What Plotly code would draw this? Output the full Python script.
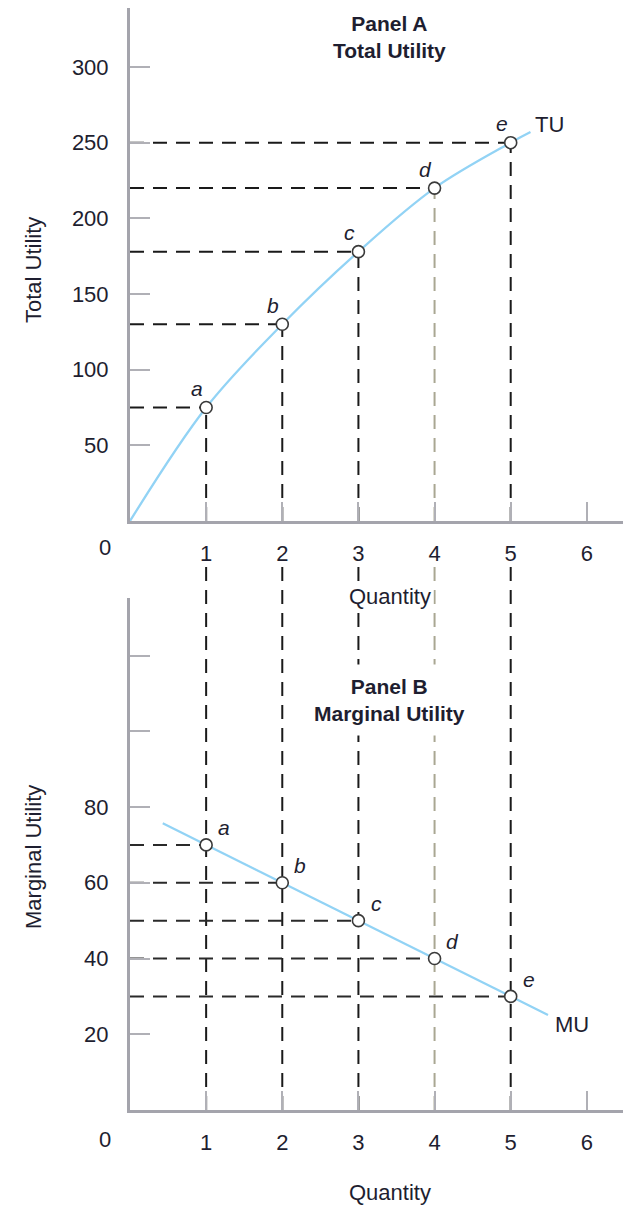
import plotly.graph_objects as go

# ---------------- data ----------------
quantity = [1, 2, 3, 4, 5]
total_utility = [75, 130, 178, 220, 250]
marginal_utility = [70, 60, 50, 40, 30]
point_labels = ["a", "b", "c", "d", "e"]
tu_curve_q = [0, 1, 2, 3, 4, 5, 5.26]
tu_curve_v = [0, 75, 130, 178, 220, 250, 257]
mu_line_q = [0.43, 5.49]
mu_line_v = [75.7, 25.1]
x_ticks = [1, 2, 3, 4, 5, 6]
tu_ticks = [50, 100, 150, 200, 250, 300]
mu_ticks = [20, 40, 60, 80, 100, 120]
mu_tick_text = ["20", "40", "60", "80", "", ""]

# ---------------- layout helpers ----------------
# the page body has an 8px margin, so the figure is made 8px smaller
OFF = 8
W, H = 631 - OFF, 1207 - OFF
ML, MR, MT, MB = 130 - OFF, 0, 8 - OFF, 97
PW, PH = W - ML - MR, H - MT - MB


def py(p):  # page pixel y -> paper
    return (1207 - MB - p) / PH


def px(p):  # page pixel x -> paper
    return (p - 130) / PW


FONT = "Liberation Sans, Arial, sans-serif"
TXT = "#1e1e30"
AX = "#a4a4ac"
TICKC = "#b0b0b6"
CURVE = "#92d3f5"
DASH = "14px,9px"

dom_a = [py(521), 1.0]
dom_b = [0.0, py(598)]

fig = go.Figure()

# curves
fig.add_trace(go.Scatter(x=tu_curve_q, y=tu_curve_v, mode="lines",
                         line=dict(color=CURVE, width=2.3, shape="spline", smoothing=1.0),
                         xaxis="x", yaxis="y", hoverinfo="skip", showlegend=False))
fig.add_trace(go.Scatter(x=mu_line_q, y=mu_line_v, mode="lines",
                         line=dict(color=CURVE, width=2.3),
                         xaxis="x2", yaxis="y2", hoverinfo="skip", showlegend=False))
# points
mk = dict(size=12, color="white", line=dict(color="#3a3a3a", width=1.6))
fig.add_trace(go.Scatter(x=quantity, y=total_utility, mode="markers", marker=mk,
                         cliponaxis=False, xaxis="x", yaxis="y", showlegend=False))
fig.add_trace(go.Scatter(x=quantity, y=marginal_utility, mode="markers", marker=mk,
                         cliponaxis=False, xaxis="x2", yaxis="y2", showlegend=False))

shapes = []
for q, tu, mu in zip(quantity, total_utility, marginal_utility):
    vcol = "#a9a792" if q == 4 else "#1a1a1a"
    # panel A vertical from point to axis
    shapes.append(dict(type="line", xref="x", yref="y", x0=q, x1=q, y0=0, y1=tu,
                       line=dict(color=vcol, width=2, dash=DASH), layer="below"))
    # continuation below the tick labels, through panel B
    shapes.append(dict(type="line", xref="x", yref="paper", x0=q, x1=q, y0=0, y1=py(561),
                       line=dict(color=vcol, width=2, dash=DASH), layer="below"))
    # panel A horizontal
    shapes.append(dict(type="line", xref="x", yref="y", x0=0, x1=q, y0=tu, y1=tu,
                       line=dict(color="#1a1a1a", width=2, dash=DASH), layer="below"))
    # panel B horizontal
    shapes.append(dict(type="line", xref="x2", yref="y2", x0=0, x1=q, y0=mu, y1=mu,
                       line=dict(color="#2a2a2a", width=2, dash=DASH), layer="below"))

ann = []
tf = dict(family=FONT, size=22, color=TXT)
lf = dict(family=FONT, size=21, color=TXT)
bf = dict(family=FONT, size=21, color=TXT, weight="bold")
for q, tu, mu, lab in zip(quantity, total_utility, marginal_utility, point_labels):
    ann.append(dict(x=q, y=tu, xref="x", yref="y", text="<i>" + lab + "</i>", showarrow=False,
                    xshift=-9, yshift=19, font=lf, xanchor="center", yanchor="middle"))
    ann.append(dict(x=q, y=mu, xref="x2", yref="y2", text="<i>" + lab + "</i>", showarrow=False,
                    xshift=18, yshift=17, font=lf, xanchor="center", yanchor="middle"))


def lab(x, y, text, font, **kw):
    d = dict(x=px(x), y=py(y), xref="paper", yref="paper", text=text, showarrow=False,
             font=font, xanchor="center", yanchor="middle")
    d.update(kw)
    return d


ann += [
    lab(105, 547, "0", tf),
    lab(105, 1139, "0", tf),
    lab(390, 596, "Quantity", tf, bgcolor="white", borderpad=2),
    lab(390, 1192, "Quantity", tf),
    lab(389, 37, "Panel A<br>Total Utility", bf, bgcolor="white"),
    lab(389, 700, "Panel B<br>Marginal Utility", bf, bgcolor="white", borderpad=10),
    lab(33, 270, "Total Utility", tf, textangle=-90),
    lab(33, 857, "Marginal Utility", tf, textangle=-90),
    lab(549, 124, "TU", tf),
    lab(572, 1024, "MU", tf),
]

xcommon = dict(range=[0, 6.58], showline=True, linecolor=AX, linewidth=3, ticks="inside",
               ticklen=19, tickwidth=1.5, tickcolor=TICKC, tickvals=x_ticks,
               tickfont=dict(family=FONT, size=22, color=TXT), ticklabelstandoff=11,
               showgrid=False, zeroline=False, fixedrange=True)
ycommon = dict(showline=True, linecolor=AX, linewidth=3, ticks="inside",
               ticklen=20, tickwidth=1.5, tickcolor=TICKC,
               tickfont=dict(family=FONT, size=22, color=TXT), ticklabelstandoff=14,
               showgrid=False, zeroline=False, fixedrange=True)

fig.update_layout(
    width=W, height=H,
    margin=dict(l=ML, r=MR, t=MT, b=MB),
    paper_bgcolor="white", plot_bgcolor="white",
    showlegend=False,
    xaxis=dict(xcommon, domain=[0, 1], anchor="y"),
    yaxis=dict(ycommon, domain=dom_a, range=[0, 339], tickvals=tu_ticks, anchor="x"),
    xaxis2=dict(xcommon, domain=[0, 1], anchor="y2"),
    yaxis2=dict(ycommon, domain=dom_b, range=[0, 135.2], tickvals=mu_ticks,
                ticktext=mu_tick_text, anchor="x2"),
    shapes=shapes,
    annotations=ann,
)

fig.write_html("out.html")
